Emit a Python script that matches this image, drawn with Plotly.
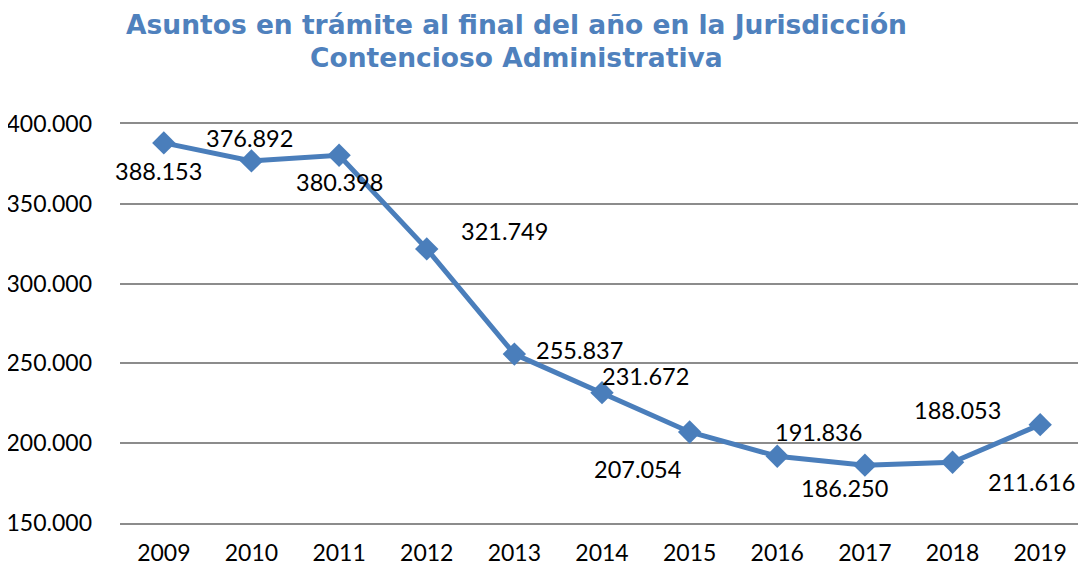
import plotly.graph_objects as go

years = [2009, 2010, 2011, 2012, 2013, 2014, 2015, 2016, 2017, 2018, 2019]
year_labels = ["2009", "2010", "2011", "2012", "2013", "2014", "2015", "2016", "2017", "2018", "2019"]
asuntos = [388153, 376892, 380398, 321749, 255837, 231672, 207054, 191836, 186250, 188053, 211616]
y_ticks = [150000, 200000, 250000, 300000, 350000, 400000]
title_lines = ["Asuntos en trámite al final del año en la Jurisdicción", "Contencioso Administrativa"]
# label offsets in pixels (dx right, dy down) relative to each point
label_dx = [-5, -2, 0, 78, 65, 43, -52, 41, -20, 5, -9]
label_dy = [28, -23, 27, -18, -4, -17, 37, -24, 23, -52, 57]

blue = "#4A7EBB"
grid = "#8C8C8C"
font_family = "Lato, 'Open Sans', sans-serif"

OFF = 8  # page body margin offset
W, H = 1086 - OFF, 572 - OFF
T, B = 124 - OFF, 523 - OFF  # plot area top/bottom in figure pixels
L, R = 120 - OFF, 1084 - OFF

fig = go.Figure()
fig.add_trace(go.Scatter(
    x=years, y=asuntos, mode="lines+markers",
    line=dict(color=blue, width=5),
    marker=dict(symbol="diamond", size=18, color=blue),
    hoverinfo="skip", showlegend=False,
))

for yr, v, dx, dy in zip(years, asuntos, label_dx, label_dy):
    fig.add_annotation(
        x=yr, y=v, text=f"{v:,}".replace(",", "."), showarrow=False,
        xshift=dx, yshift=-dy, font=dict(family=font_family, size=23.5, color="#000000"),
    )

for line_text, py in zip(title_lines, [24 - OFF, 58 - OFF]):
    fig.add_annotation(
        xref="paper", yref="paper", x=(516 - OFF - L) / (R - L), y=(B - py) / (B - T),
        xanchor="center", yanchor="middle", showarrow=False, text=f"<b>{line_text}</b>",
        font=dict(family="DejaVu Sans", size=26.5, color="#4F81BD"),
    )

fig.add_shape(type="line", xref="paper", yref="paper", x0=1, x1=1, y0=0, y1=1,
              line=dict(color=grid, width=2))

fig.update_layout(
    width=W, height=H,
    margin=dict(l=L, r=W - R, t=T, b=H - B, autoexpand=False),
    paper_bgcolor="white", plot_bgcolor="white",
    separators=",.",
    xaxis=dict(
        range=[2008.5, 2019.5], tickvals=years, ticktext=year_labels,
        showgrid=False, zeroline=False, showline=True, mirror=True,
        linecolor=grid, linewidth=2, automargin=False,
        ticks="", tickfont=dict(family=font_family, size=23, color="#000000"),
        ticklabelstandoff=8,
    ),
    yaxis=dict(
        range=[150000, 400000], tickvals=y_ticks, automargin=False,
        tickformat=",d", showgrid=True, gridcolor=grid, gridwidth=2,
        zeroline=False, showline=False, ticks="",
        tickfont=dict(family=font_family, size=23, color="#000000"),
        ticklabelstandoff=27,
    ),
)

fig.write_html("out.html")
